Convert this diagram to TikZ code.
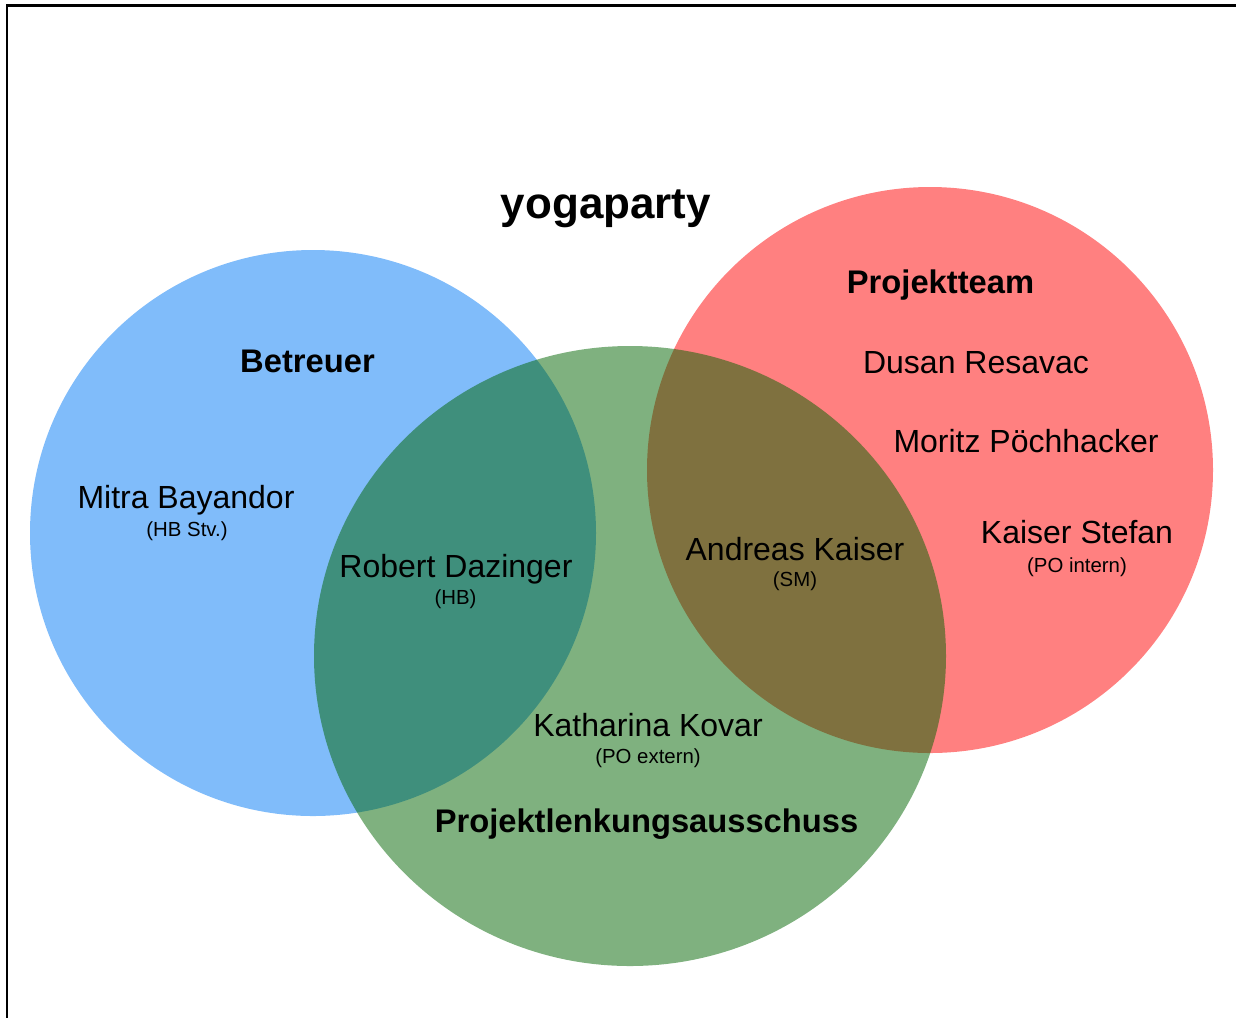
\documentclass[tikz,border=0pt]{standalone}
\usepackage{fontspec}
\setmainfont{Liberation Sans}
\definecolor{mybetreuercolor}{HTML}{80BCFA}
\definecolor{myteamcolor}{HTML}{FF8080}
\definecolor{mylenkungcolor}{HTML}{006400}
\tikzset{
  namelabel/.style={anchor=base, inner sep=0pt, font=\fontsize{9.1pt}{9.1pt}\selectfont},
  rolelabel/.style={anchor=base, inner sep=0pt, font=\fontsize{5.8pt}{5.8pt}\selectfont},
  grouplabel/.style={anchor=base, inner sep=0pt, font=\fontsize{9.3pt}{9.3pt}\selectfont\bfseries},
}

\begin{document}
\begin{tikzpicture}[x=0.01cm, y=-0.01cm]%
\useasboundingbox (0,0) rectangle (1236,1017);%
\draw[line width=0.65pt] (7,5.5) rectangle (1300,1100);%
\fill[mybetreuercolor] (313,533) circle[radius=283];%
\fill[myteamcolor] (930,470) circle[radius=283];%
\fill[mylenkungcolor, fill opacity=0.5] (630,656) ellipse[x radius=316, y radius=310];%
\node[grouplabel, font=\fontsize{12.5pt}{12.5pt}\selectfont\bfseries] (title) at (606, 218) {yogaparty};%
\node[grouplabel] (betreuer) at (307.5, 372) {Betreuer};%
\node[grouplabel] (projektteam) at (940.5, 293) {Projektteam};%
\node[grouplabel] (lenkung) at (646.5, 832) {Projektlenkungsausschuss};%
\node[namelabel] (bayandor) at (186, 508) {Mitra Bayandor};%
\node[rolelabel] (bayandorrole) at (187, 536) {(HB Stv.)};%
\node[namelabel] (dazinger) at (456, 577) {Robert Dazinger};%
\node[rolelabel] (dazingerrole) at (455.5, 604) {(HB)};%
\node[namelabel] (kaiser) at (795, 560) {Andreas Kaiser};%
\node[rolelabel] (kaiserrole) at (795, 586) {(SM)};%
\node[namelabel] (resavac) at (976, 373) {Dusan Resavac};%
\node[namelabel] (poechhacker) at (1026, 452) {Moritz Pöchhacker};%
\node[namelabel] (stefan) at (1077, 543) {Kaiser Stefan};%
\node[rolelabel] (stefanrole) at (1077, 572) {(PO intern)};%
\node[namelabel] (kovar) at (648, 736) {Katharina Kovar};%
\node[rolelabel] (kovarrole) at (648, 763) {(PO extern)};%
\end{tikzpicture}
\end{document}
